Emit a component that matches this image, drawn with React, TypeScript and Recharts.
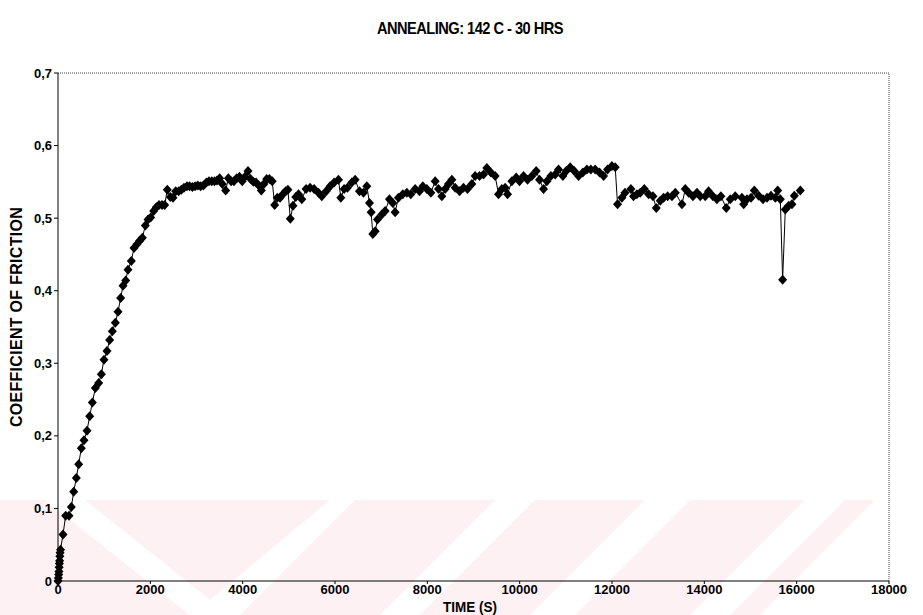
import React from 'react'
import { LineChart, Line, XAxis, YAxis, ReferenceLine } from 'recharts'

// Friction test after annealing at 142 C for 30 h
const TIME_S = [
  0, 8, 15, 20, 25, 30, 35, 40, 45, 55,
  108, 166, 238, 289, 340, 397, 448, 505, 563, 628,
  686, 744, 809, 881, 939, 996, 1061, 1119, 1177, 1242,
  1300, 1357, 1408, 1466, 1516, 1588, 1646, 1711, 1769, 1827,
  1892, 1950, 2007, 2072, 2130, 2188, 2253, 2310, 2368, 2433,
  2491, 2549, 2614, 2671, 2729, 2794, 2850, 2910, 2970, 3030,
  3090, 3150, 3213, 3270, 3330, 3390, 3445, 3502, 3560, 3632,
  3690, 3750, 3810, 3870, 3930, 3990, 4050, 4116, 4170, 4230,
  4290, 4350, 4404, 4460, 4520, 4580, 4640, 4693, 4750, 4810,
  4870, 4930, 4980, 5032, 5090, 5150, 5210, 5280, 5374, 5460,
  5547, 5641, 5713, 5808, 5894, 5981, 6075, 6126, 6198, 6270,
  6364, 6436, 6530, 6617, 6689, 6747, 6783, 6819, 6870, 6920,
  7014, 7086, 7179, 7252, 7302, 7374, 7469, 7556, 7642, 7736,
  7830, 7903, 7989, 8076, 8170, 8242, 8314, 8386, 8459, 8531,
  8603, 8697, 8783, 8870, 8964, 9036, 9130, 9217, 9289, 9376,
  9469, 9542, 9614, 9686, 9737, 9831, 9925, 9997, 10084, 10170,
  10264, 10358, 10430, 10517, 10589, 10676, 10770, 10842, 10936, 11008,
  11095, 11182, 11275, 11369, 11456, 11542, 11636, 11730, 11817, 11903,
  11998, 12070, 12120, 12214, 12282, 12410, 12466, 12540, 12612, 12700,
  12793, 12887, 12959, 13046, 13118, 13205, 13299, 13371, 13515, 13587,
  13660, 13753, 13840, 13912, 14020, 14092, 14186, 14273, 14359, 14475,
  14562, 14670, 14814, 14852, 14924, 15011, 15083, 15177, 15271, 15358,
  15444, 15538, 15589, 15646, 15696, 15754, 15826, 15898, 15949, 16079,
]

const COF = [
  0, 0.004, 0.009, 0.013, 0.019, 0.024, 0.028, 0.034, 0.039, 0.043,
  0.064, 0.09, 0.09, 0.102, 0.123, 0.142, 0.161, 0.183, 0.194, 0.207,
  0.227, 0.246, 0.266, 0.273, 0.285, 0.305, 0.317, 0.332, 0.344, 0.356,
  0.371, 0.39, 0.407, 0.414, 0.429, 0.441, 0.459, 0.464, 0.469, 0.473,
  0.49, 0.498, 0.501, 0.51, 0.515, 0.518, 0.518, 0.518, 0.539, 0.529,
  0.528, 0.537, 0.537, 0.539, 0.542, 0.544, 0.544, 0.543, 0.544, 0.545,
  0.544, 0.545, 0.549, 0.551, 0.551, 0.551, 0.552, 0.555, 0.547, 0.538,
  0.555, 0.551, 0.551, 0.555, 0.557, 0.551, 0.557, 0.565, 0.554, 0.55,
  0.549, 0.545, 0.538, 0.547, 0.554, 0.554, 0.551, 0.518, 0.528, 0.528,
  0.533, 0.537, 0.539, 0.499, 0.517, 0.529, 0.533, 0.526, 0.54, 0.542,
  0.54, 0.535, 0.53, 0.537, 0.544, 0.549, 0.553, 0.528, 0.54, 0.542,
  0.549, 0.553, 0.537, 0.535, 0.544, 0.521, 0.508, 0.478, 0.482, 0.498,
  0.505, 0.51, 0.526, 0.521, 0.508, 0.528, 0.533, 0.535, 0.533, 0.54,
  0.537, 0.544, 0.54, 0.535, 0.551, 0.54, 0.53, 0.54, 0.547, 0.553,
  0.542, 0.537, 0.542, 0.54, 0.547, 0.558, 0.558, 0.56, 0.569, 0.563,
  0.558, 0.533, 0.54, 0.542, 0.533, 0.551, 0.556, 0.551, 0.558, 0.553,
  0.558, 0.565, 0.553, 0.54, 0.551, 0.558, 0.56, 0.567, 0.558, 0.565,
  0.57, 0.565, 0.558, 0.563, 0.567, 0.567, 0.567, 0.563, 0.558, 0.567,
  0.572, 0.57, 0.519, 0.528, 0.535, 0.54, 0.53, 0.533, 0.535, 0.54,
  0.533, 0.53, 0.514, 0.524, 0.528, 0.53, 0.53, 0.535, 0.519, 0.54,
  0.535, 0.53, 0.535, 0.53, 0.53, 0.537, 0.53, 0.526, 0.53, 0.514,
  0.526, 0.53, 0.528, 0.519, 0.526, 0.528, 0.538, 0.531, 0.526, 0.528,
  0.531, 0.528, 0.538, 0.526, 0.415, 0.512, 0.517, 0.519, 0.531, 0.538,
]

const X_TICKS = [0, 2000, 4000, 6000, 8000, 10000, 12000, 14000, 16000, 18000]
const Y_TICKS = [0, 0.1, 0.2, 0.3, 0.4, 0.5, 0.6, 0.7]

const rows = TIME_S.map((t, i) => ({ t, cof: COF[i] }))

const FONT = "'Liberation Sans', Arial, sans-serif"

// filled diamond marker
const Diamond = (props: any) => {
  const { cx, cy } = props
  if (cx == null || cy == null) return null
  return (
    <polygon
      points={`${cx},${cy - 5} ${cx + 4.5},${cy} ${cx},${cy + 5} ${cx - 4.5},${cy}`}
      fill="#000"
    />
  )
}

const fmtY = (v: number) => (v === 0 ? '0' : v.toFixed(1).replace('.', ','))

// faint pink stripes along the bottom of the page
const Watermark = () => (
  <svg width={923} height={615} style={{ position: 'absolute', left: 0, top: 0 }}>
    <g fill="#fef1f3">
      <polygon points="0,500 45,500 190,615 0,615" />
      <polygon points="85,500 330,500 210,600" />
      <polygon points="355,500 495,500 380,615 240,615" />
      <polygon points="535,500 645,500 530,615 420,615" />
      <polygon points="690,500 805,500 690,615 575,615" />
      <polygon points="845,500 875,500 760,615 730,615" />
    </g>
  </svg>
)

export default function App() {
  return (
    <div style={{ position: 'absolute', left: 0, top: 0, width: 923, height: 615, background: '#fff', fontFamily: FONT }}>
      <Watermark />
      <div style={{ position: 'absolute', left: 0, top: 0 }}>
        <LineChart width={923} height={615} data={rows} margin={{ top: 73, right: 34, bottom: 14, left: 18 }}>
          <XAxis
            dataKey="t"
            type="number"
            domain={[0, 18000]}
            ticks={X_TICKS}
            interval={0}
            height={20}
            tickSize={3}
            tickMargin={1}
            stroke="#000"
            tick={{ fill: '#000', fontSize: 13, fontWeight: 'bold', fontFamily: FONT }}
          />
          <YAxis
            type="number"
            domain={[0, 0.7]}
            ticks={Y_TICKS}
            interval={0}
            width={40}
            tickSize={4}
            tickMargin={2}
            tickFormatter={fmtY}
            stroke="#000"
            tick={{ fill: '#000', fontSize: 13, fontWeight: 'bold', fontFamily: FONT }}
          />
          <ReferenceLine y={0.7} stroke="#444" strokeDasharray="1 1" />
          <ReferenceLine x={18000} stroke="#444" strokeDasharray="1 1" />
          <Line
            dataKey="cof"
            type="linear"
            stroke="#000"
            strokeWidth={1}
            dot={<Diamond />}
            activeDot={false}
            isAnimationActive={false}
          />
        </LineChart>
      </div>
      <div
        style={{
          position: 'absolute', left: 470, top: 29, transform: 'translate(-50%, -50%) scaleX(0.86)',
          fontSize: 17, fontWeight: 'bold', letterSpacing: -0.6, whiteSpace: 'nowrap',
        }}
      >
        ANNEALING: 142 C - 30 HRS
      </div>
      <div
        style={{
          position: 'absolute', left: 17, top: 317, transform: 'translate(-50%, -50%) rotate(-90deg)',
          fontSize: 16, fontWeight: 'bold', letterSpacing: 0.3, whiteSpace: 'nowrap',
        }}
      >
        COEFFICIENT OF FRICTION
      </div>
      <div
        style={{
          position: 'absolute', left: 470, top: 606, transform: 'translate(-50%, -50%) scaleX(0.9)',
          fontSize: 15, fontWeight: 'bold', whiteSpace: 'nowrap',
        }}
      >
        TIME (S)
      </div>
    </div>
  )
}
